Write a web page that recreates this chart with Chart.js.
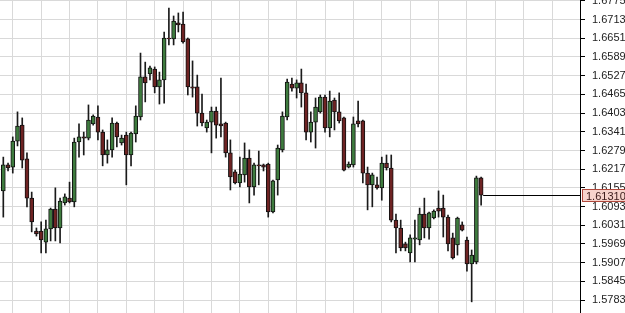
<!DOCTYPE html>
<html>
<head>
<meta charset="utf-8">
<script src="https://cdn.jsdelivr.net/npm/chart.js@4/dist/chart.umd.min.js"></script>
<style>
  html, body { margin: 0; padding: 0; background: #fff; }
  canvas { display: block; }
</style>
</head>
<body>
<canvas id="chart" width="625" height="313"></canvas>
<script>
// daily candles, oldest first
const opens = [
  1.6145, 1.6231, 1.6224, 1.6310, 1.6363, 1.6251, 1.6121, 1.6012, 1.6012, 1.5975,
  1.6019, 1.6085, 1.6022, 1.6105, 1.6121, 1.6108, 1.6307, 1.6324, 1.6320, 1.6367,
  1.6390, 1.6340, 1.6264, 1.6281, 1.6370, 1.6304, 1.6330, 1.6264, 1.6334, 1.6390,
  1.6523, 1.6533, 1.6549, 1.6490, 1.6513, 1.6652, 1.6649, 1.6702, 1.6698, 1.6649,
  1.6490, 1.6490, 1.6403, 1.6354, 1.6373, 1.6410, 1.6367, 1.6370, 1.6271, 1.6208,
  1.6171, 1.6198, 1.6254, 1.6158, 1.6231, 1.6231, 1.6234, 1.6075, 1.6181, 1.6281,
  1.6390, 1.6499, 1.6486, 1.6503, 1.6470, 1.6340, 1.6373, 1.6407, 1.6456, 1.6354,
  1.6446, 1.6407, 1.6387, 1.6224, 1.6231, 1.6377, 1.6377, 1.6204, 1.6165, 1.6165,
  1.6155, 1.6237, 1.6221, 1.6048, 1.6022, 1.5969, 1.5939, 1.5985, 1.5982, 1.6068,
  1.6022, 1.6055, 1.6088, 1.6088, 1.6058, 1.5989, 1.5966, 1.6032, 1.5982, 1.5903,
  1.5909, 1.6188
];
const highs = [
  1.6257, 1.6237, 1.6324, 1.6407, 1.6387, 1.6271, 1.6141, 1.6022, 1.6042, 1.6048,
  1.6088, 1.6155, 1.6121, 1.6135, 1.6174, 1.6320, 1.6367, 1.6340, 1.6430, 1.6397,
  1.6427, 1.6347, 1.6314, 1.6387, 1.6373, 1.6330, 1.6340, 1.6340, 1.6427, 1.6602,
  1.6572, 1.6559, 1.6556, 1.6539, 1.6672, 1.6751, 1.6725, 1.6735, 1.6738, 1.6652,
  1.6576, 1.6529, 1.6466, 1.6380, 1.6423, 1.6423, 1.6519, 1.6373, 1.6314, 1.6214,
  1.6257, 1.6304, 1.6281, 1.6237, 1.6277, 1.6234, 1.6237, 1.6181, 1.6297, 1.6407,
  1.6516, 1.6519, 1.6513, 1.6549, 1.6499, 1.6407, 1.6453, 1.6463, 1.6463, 1.6476,
  1.6453, 1.6470, 1.6390, 1.6241, 1.6390, 1.6443, 1.6380, 1.6224, 1.6204, 1.6191,
  1.6257, 1.6264, 1.6264, 1.6068, 1.6048, 1.5975, 1.5999, 1.6048, 1.6088, 1.6121,
  1.6075, 1.6082, 1.6145, 1.6131, 1.6065, 1.6005, 1.6058, 1.6042, 1.5992, 1.5949,
  1.6194, 1.6191
];
const lows = [
  1.6058, 1.6211, 1.6204, 1.6294, 1.6221, 1.6092, 1.6009, 1.5995, 1.5939, 1.5939,
  1.5979, 1.5979, 1.5972, 1.6098, 1.6105, 1.6092, 1.6257, 1.6264, 1.6314, 1.6363,
  1.6314, 1.6228, 1.6237, 1.6257, 1.6291, 1.6297, 1.6165, 1.6228, 1.6307, 1.6380,
  1.6440, 1.6513, 1.6470, 1.6433, 1.6436, 1.6629, 1.6629, 1.6672, 1.6635, 1.6463,
  1.6456, 1.6360, 1.6360, 1.6340, 1.6271, 1.6320, 1.6324, 1.6257, 1.6148, 1.6168,
  1.6158, 1.6174, 1.6105, 1.6131, 1.6165, 1.6211, 1.6058, 1.6072, 1.6131, 1.6274,
  1.6380, 1.6476, 1.6453, 1.6423, 1.6314, 1.6307, 1.6287, 1.6403, 1.6340, 1.6324,
  1.6347, 1.6370, 1.6211, 1.6221, 1.6224, 1.6357, 1.6171, 1.6082, 1.6092, 1.6151,
  1.6114, 1.6214, 1.6042, 1.5939, 1.5946, 1.5946, 1.5909, 1.5909, 1.5966, 1.5989,
  1.5985, 1.6052, 1.6058, 1.5992, 1.5946, 1.5919, 1.5932, 1.6012, 1.5879, 1.5777,
  1.5903, 1.6098
];
const closes = [
  1.6231, 1.6221, 1.6310, 1.6360, 1.6247, 1.6121, 1.6042, 1.6002, 1.5982, 1.6019,
  1.6085, 1.6022, 1.6111, 1.6125, 1.6108, 1.6307, 1.6324, 1.6320, 1.6380, 1.6393,
  1.6340, 1.6264, 1.6281, 1.6370, 1.6324, 1.6320, 1.6264, 1.6337, 1.6393, 1.6523,
  1.6503, 1.6553, 1.6490, 1.6513, 1.6652, 1.6649, 1.6708, 1.6695, 1.6639, 1.6490,
  1.6486, 1.6403, 1.6370, 1.6373, 1.6410, 1.6363, 1.6360, 1.6271, 1.6191, 1.6171,
  1.6201, 1.6254, 1.6158, 1.6231, 1.6228, 1.6224, 1.6075, 1.6178, 1.6287, 1.6393,
  1.6506, 1.6486, 1.6503, 1.6470, 1.6340, 1.6373, 1.6423, 1.6456, 1.6354, 1.6443,
  1.6407, 1.6377, 1.6214, 1.6234, 1.6367, 1.6367, 1.6204, 1.6165, 1.6198, 1.6155,
  1.6237, 1.6221, 1.6048, 1.6022, 1.5956, 1.5956, 1.5989, 1.5989, 1.6068, 1.6022,
  1.6072, 1.6078, 1.6078, 1.6058, 1.5969, 1.5923, 1.6055, 1.6015, 1.5903, 1.5932,
  1.6188, 1.6131
];

// right axis price levels
const priceTicks = [
  1.5783, 1.5845, 1.5907, 1.5969, 1.6031, 1.6093, 1.6155, 1.6217, 1.6279,
  1.6341, 1.6403, 1.6465, 1.6527, 1.6589, 1.6651, 1.6713, 1.6775
];
const lastPriceLabel = '1.61310';

const bodies = opens.map((o, i) => ({ x: i, y: [o, closes[i]] }));
const wicks = lows.map((l, i) => ({ x: i, y: [l, highs[i]] }));
const bodyColors = closes.map((c, i) => c >= opens[i] ? '#3e7b3e' : '#6e2323');

// last price line + tag on the axis
const lastPricePlugin = {
  id: 'lastPrice',
  afterDraw(chart) {
    const { ctx, chartArea, scales } = chart;
    const last = closes.length - 1;
    const y = Math.round(scales.y.getPixelForValue(closes[last])) + 0.5;
    const x0 = scales.x.getPixelForValue(last) + 2;
    ctx.save();
    ctx.strokeStyle = '#000';
    ctx.lineWidth = 1;
    ctx.beginPath();
    ctx.moveTo(x0, y);
    ctx.lineTo(chartArea.right, y);
    ctx.stroke();

    const left = chartArea.right + 2;
    ctx.fillStyle = '#f7d3cc';
    ctx.fillRect(left, y - 6.5, 625 - left, 13);
    ctx.strokeStyle = '#b0483c';
    ctx.strokeRect(left + 0.5, y - 6, 625 - left, 12);
    ctx.fillStyle = '#3a1a1a';
    ctx.font = '11px "Liberation Sans", Arial, sans-serif';
    ctx.textBaseline = 'middle';
    ctx.fillText(lastPriceLabel, left + 4, y + 1);
    ctx.restore();
  }
};

const ctx = document.getElementById('chart');
const candleChart = new Chart(ctx, {
  type: 'bar',
  data: {
    datasets: [
      {
        label: 'body',
        data: bodies,
        backgroundColor: bodyColors,
        borderColor: '#111',
        borderWidth: 1,
        borderSkipped: false,
        barThickness: 4,
        grouped: false
      },
      {
        label: 'wick',
        data: wicks,
        backgroundColor: '#1a1a1a',
        borderWidth: 0,
        barThickness: 1,
        grouped: false
      }
    ]
  },
  options: {
    responsive: false,
    animation: false,
    devicePixelRatio: 1,
    layout: { padding: 0 },
    plugins: {
      legend: { display: false },
      tooltip: { enabled: false }
    },
    scales: {
      x: {
        type: 'linear',
        min: -0.7,
        max: 121.9,
        offset: false,
        afterBuildTicks: (scale) => {
          const t = [];
          for (let v = 2; v < 121; v += 6) t.push({ value: v });
          scale.ticks = t;
        },
        afterFit: (scale) => {
          scale.height = 0;
          scale.paddingLeft = 0;
          scale.paddingRight = 0;
        },
        grid: { color: '#d9d9d9', drawTicks: false, offset: false },
        border: { display: false },
        ticks: { display: false }
      },
      y: {
        position: 'right',
        min: 1.5740,
        max: 1.6778,
        afterBuildTicks: (scale) => {
          scale.ticks = priceTicks.map(v => ({ value: v }));
        },
        afterFit: (scale) => {
          scale.width = 45;
          // let the chart run edge to edge, labels may clip like the original
          scale.paddingTop = 0;
          scale.paddingBottom = 0;
        },
        grid: { color: '#d9d9d9', tickColor: '#000', tickLength: 5 },
        border: { display: true, color: '#000', width: 1 },
        ticks: {
          autoSkip: false,
          padding: 7,
          color: '#222',
          font: { family: '"Liberation Sans", Arial, sans-serif', size: 11 },
          callback: (v) => Number(v).toFixed(4)
        }
      }
    }
  },
  plugins: [lastPricePlugin]
});
</script>
</body>
</html>
